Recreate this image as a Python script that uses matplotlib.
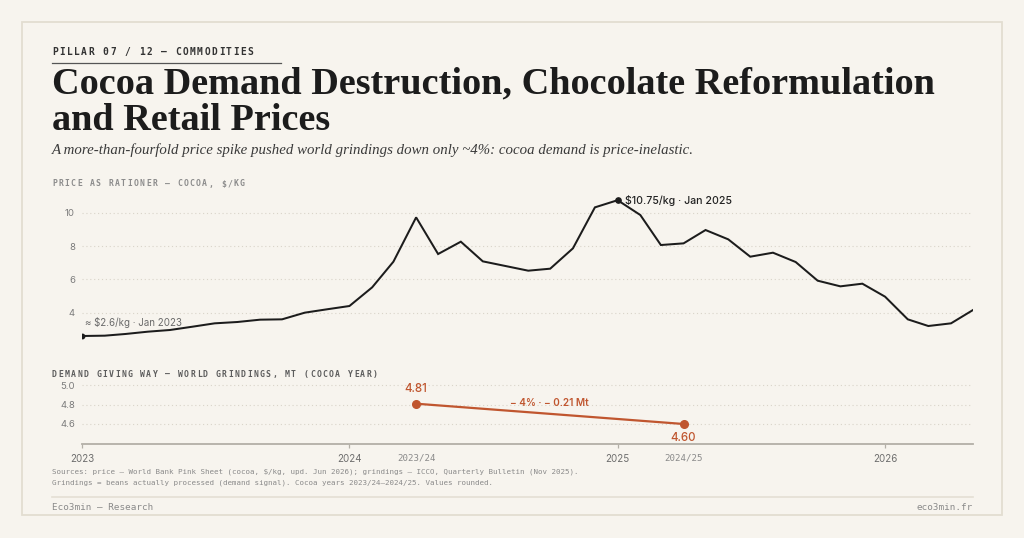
import matplotlib
matplotlib.use('Agg')
import matplotlib.pyplot as plt
from matplotlib.patches import Rectangle
from matplotlib.lines import Line2D
import pandas as pd

# --- data -------------------------------------------------------------
# cocoa price, $/kg, monthly from Jan 2023 (World Bank Pink Sheet)
price_dates = pd.date_range('2023-01-01', periods=41, freq='MS')
price_usd_kg = [2.60, 2.62, 2.72, 2.86, 2.96, 3.16, 3.36, 3.44, 3.58, 3.60, 4.00, 4.20,
                4.40, 5.52, 7.06, 9.72, 7.52, 8.26, 7.08, 6.80, 6.52, 6.64, 7.86, 10.32,
                10.75, 9.86, 8.06, 8.16, 8.96, 8.40, 7.36, 7.60, 7.04, 5.92, 5.58, 5.74,
                4.96, 3.60, 3.20, 3.36, 4.16]

# world grindings, Mt, by cocoa year (placed mid cocoa year)
cocoa_years = ['2023/24', '2024/25']
cocoa_year_mid = pd.to_datetime(['2024-04-01', '2025-04-01'])
grindings_mt = [4.81, 4.60]

year_ticks = pd.to_datetime(['2023-01-01', '2024-01-01', '2025-01-01', '2026-01-01'])
year_labels = ['2023', '2024', '2025', '2026']
price_yticks = [4, 6, 8, 10]
grind_yticks = [4.6, 4.8, 5.0]

# --- style ------------------------------------------------------------
bg = '#f7f4ee'
card_edge = '#e2ddd1'
ink = '#1c1c1c'
grey = '#7b7b7b'
grid_c = '#d9d4c9'
orange = '#c0562f'
mono = 'DejaVu Sans Mono'
sans = 'Inter'
serif = 'Liberation Serif'

W, H = 1024, 538
fig = plt.figure(figsize=(W / 100, H / 100), dpi=100)
fig.patch.set_facecolor(bg)

def fx(x):
  return x / W

def fy(y):
  return 1 - y / H

def spaced(x, y, s, pitch, **kw):
  # poor man's letter spacing: monospace, one glyph per slot
  for i, ch in enumerate(s):
    fig.text(fx(x + i * pitch), fy(y), ch, ha='left', va='center', family=mono, **kw)

# card outline
fig.patches.append(Rectangle((fx(22), fy(515)), fx(1002) - fx(22), fy(22) - fy(515),
                             transform=fig.transFigure, facecolor='none',
                             edgecolor=card_edge, linewidth=1.3, zorder=-1))

# --- header -----------------------------------------------------------
spaced(52, 52, 'PILLAR 07 / 12 — COMMODITIES', 7.25, size=6.9, weight='bold', color='#333333')
fig.lines.append(Line2D([fx(52), fx(281)], [fy(63), fy(63)], transform=fig.transFigure,
                        color='#555555', lw=0.9))
fig.text(fx(52), fy(93), 'Cocoa Demand Destruction, Chocolate Reformulation',
         family=serif, weight='bold', size=27.5, color=ink, va='baseline')
fig.text(fx(52), fy(130), 'and Retail Prices',
         family=serif, weight='bold', size=27.5, color=ink, va='baseline')
fig.text(fx(52), fy(154),
         'A more-than-fourfold price spike pushed world grindings down only ~4%: '
         'cocoa demand is price-inelastic.',
         family=serif, style='italic', size=10.75, color='#3a3a3a', va='baseline')

spaced(52, 184, 'PRICE AS RATIONER — COCOA, $/KG', 6.26, size=5.9, weight='bold',
       color='#8c8c8c')
spaced(52, 374.5, 'DEMAND GIVING WAY — WORLD GRINDINGS, MT (COCOA YEAR)', 6.29,
       size=5.9, weight='bold', color='#5c5c5c')

xmin, xmax = pd.Timestamp('2023-01-01'), pd.Timestamp('2026-05-01')

# --- price panel ------------------------------------------------------
ax1 = fig.add_axes([fx(82), fy(346), fx(973) - fx(82), fy(192.7) - fy(346)])
ax1.set_facecolor('none')
ax1.set_xlim(xmin, xmax)
ax1.set_ylim(2.0, 11.2)
for s in ax1.spines.values():
  s.set_visible(False)
ax1.set_xticks([])
ax1.set_yticks(price_yticks)
ax1.tick_params(axis='y', length=0, pad=5, labelsize=6.9, labelcolor=grey)
for lab in ax1.get_yticklabels():
  lab.set_family(sans)
ax1.grid(axis='y', color=grid_c, lw=0.8, linestyle=(0, (1, 2.5)))

ax1.plot(price_dates, price_usd_kg, color=ink, lw=1.45, solid_joinstyle='miter', zorder=3)

i_peak = price_usd_kg.index(max(price_usd_kg))
ax1.plot(price_dates[0], price_usd_kg[0], 'o', color=ink, ms=3.2, zorder=4)
ax1.plot(price_dates[i_peak], price_usd_kg[i_peak], 'o', color=ink, ms=3.8, zorder=4)
ax1.annotate('≈ $%.1f/kg · %s' % (price_usd_kg[0], price_dates[0].strftime('%b %Y')),
             (price_dates[0], price_usd_kg[0]), xytext=(2, 10), textcoords='offset points',
             family=sans, size=7, color='#6a6a6a', va='center', ha='left')
ax1.annotate('$%.2f/kg · %s' % (price_usd_kg[i_peak], price_dates[i_peak].strftime('%b %Y')),
             (price_dates[i_peak], price_usd_kg[i_peak]), xytext=(5, 0),
             textcoords='offset points', family=sans, size=7.6, weight='medium',
             color='#222222', va='center', ha='left')

# --- grindings panel --------------------------------------------------
ax2 = fig.add_axes([fx(82), fy(444), fx(973) - fx(82), fy(380.5) - fy(444)])
ax2.set_facecolor('none')
ax2.set_xlim(xmin, xmax)
ax2.set_ylim(4.393, 5.05)
for name in ['top', 'right', 'left']:
  ax2.spines[name].set_visible(False)
ax2.spines['bottom'].set_color('#b3afa7')
ax2.spines['bottom'].set_linewidth(1.3)
ax2.set_yticks(grind_yticks)
ax2.set_yticklabels(['%.1f' % v for v in grind_yticks])
ax2.tick_params(axis='y', length=0, pad=5, labelsize=6.9, labelcolor=grey)
for lab in ax2.get_yticklabels():
  lab.set_family(sans)
ax2.grid(axis='y', color=grid_c, lw=0.8, linestyle=(0, (1, 2.5)))

ax2.set_xticks(year_ticks)
ax2.set_xticklabels(year_labels, family=sans, size=7, color='#6e6e6e')
ax2.tick_params(axis='x', which='major', length=3, width=0.9, color='#b3afa7', pad=4)
ax2.set_xticks(cocoa_year_mid, minor=True)
ax2.set_xticklabels(cocoa_years, minor=True, family=mono, size=6.6, color='#8a8a8a')
ax2.tick_params(axis='x', which='minor', length=0, pad=7)

ax2.plot(cocoa_year_mid, grindings_mt, color=orange, lw=1.6, marker='o', ms=5.5, zorder=3,
         clip_on=False)
ax2.annotate('%.2f' % grindings_mt[0], (cocoa_year_mid[0], grindings_mt[0]), xytext=(0, 10.5),
             textcoords='offset points', ha='center', va='center', family=sans, size=8.3,
             weight='medium', color=orange)
ax2.annotate('%.2f' % grindings_mt[1], (cocoa_year_mid[1], grindings_mt[1]), xytext=(0, -10),
             textcoords='offset points', ha='center', va='center', family=sans, size=8.3,
             weight='medium', color=orange)
pct = (grindings_mt[1] / grindings_mt[0] - 1) * 100
diff = grindings_mt[1] - grindings_mt[0]
mid_x = cocoa_year_mid[0] + (cocoa_year_mid[1] - cocoa_year_mid[0]) / 2
mid_y = (grindings_mt[0] + grindings_mt[1]) / 2
ax2.annotate('− %d%% · − %.2f Mt' % (round(abs(pct)), abs(diff)), (mid_x, mid_y),
             xytext=(0, 7.5), textcoords='offset points', ha='center', va='center',
             family=sans, size=7.2, weight='semibold', color=orange)

# --- footer -----------------------------------------------------------
fig.text(fx(52), fy(472),
         'Sources: price — World Bank Pink Sheet (cocoa, $/kg, upd. Jun 2026); '
         'grindings — ICCO, Quarterly Bulletin (Nov 2025).',
         family=mono, size=5.4, color='#8a8a8a', va='center')
fig.text(fx(52), fy(483),
         'Grindings = beans actually processed (demand signal). '
         'Cocoa years 2023/24–2024/25. Values rounded.',
         family=mono, size=5.4, color='#8a8a8a', va='center')
fig.lines.append(Line2D([fx(52), fx(973)], [fy(497), fy(497)], transform=fig.transFigure,
                        color='#e4dfd4', lw=1.2))
fig.text(fx(52), fy(507.5), 'Eco3min — Research', family=mono, size=6.7, color='#8a8a8a',
         va='center')
fig.text(fx(973), fy(507.5), 'eco3min.fr', family=mono, size=6.7, color='#8a8a8a',
         va='center', ha='right')

fig.savefig('out.png', dpi=100, facecolor=bg)
